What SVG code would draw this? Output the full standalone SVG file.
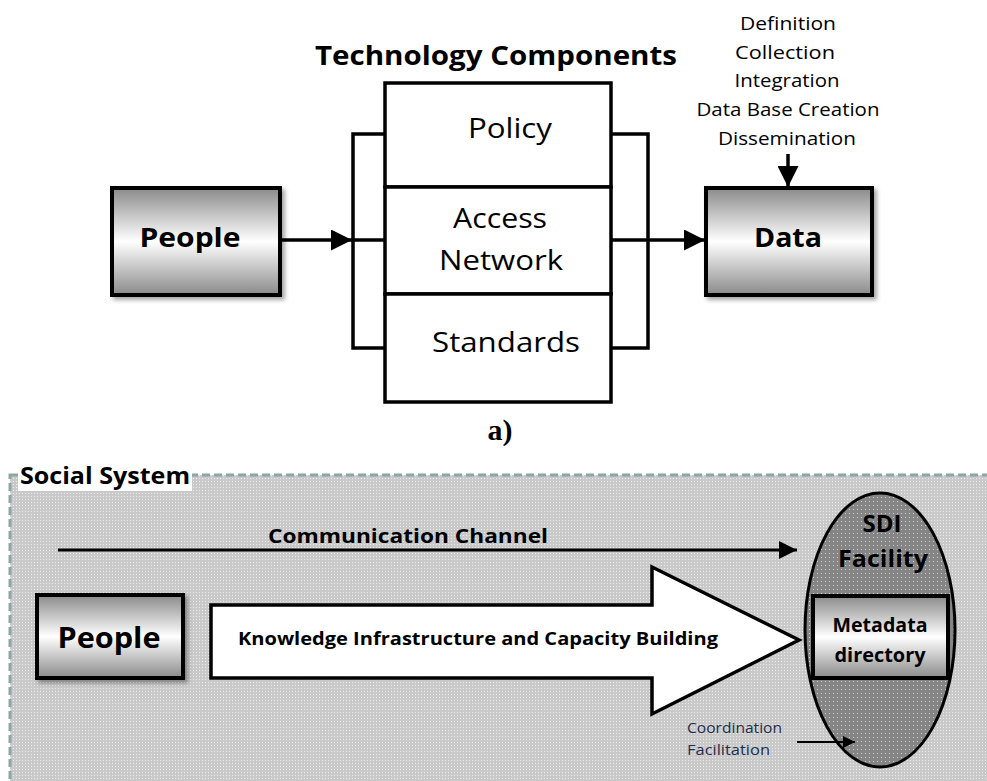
<svg xmlns="http://www.w3.org/2000/svg" width="987" height="781" viewBox="0 0 987 781">
<defs>
<linearGradient id="gBox" x1="0" y1="0" x2="0" y2="1">
<stop offset="0" stop-color="#8a8a8a"/>
<stop offset="0.5" stop-color="#ffffff"/>
<stop offset="1" stop-color="#8a8a8a"/>
</linearGradient>
<pattern id="pBg" width="3" height="3" patternUnits="userSpaceOnUse">
<rect width="3" height="3" fill="#c9c9c9"/>
<rect x="1" y="1" width="1" height="1" fill="#ececec"/>
</pattern>
<pattern id="pEl" width="4" height="4" patternUnits="userSpaceOnUse">
<rect width="4" height="4" fill="#858585"/>
<rect x="1" y="1" width="1" height="1" fill="#cfcfcf"/>
</pattern>
<filter id="sh" x="-10%" y="-10%" width="125%" height="130%">
<feDropShadow dx="3" dy="3" stdDeviation="2" flood-color="#000" flood-opacity="0.35"/>
</filter>
<marker id="ah" viewBox="0 0 10 10" refX="10" refY="5" markerWidth="6" markerHeight="6" orient="auto" markerUnits="strokeWidth">
<path d="M0,0 L10,5 L0,10 z" fill="#000"/>
</marker>
<marker id="ahs" viewBox="0 0 10 10" refX="10" refY="5" markerWidth="6" markerHeight="6" orient="auto" markerUnits="strokeWidth">
<path d="M0,0 L10,5 L0,10 z" fill="#000"/>
</marker>
</defs>
<style>
text{font-family:"Open Sans","Liberation Sans",sans-serif;fill:#000}
.b{font-weight:bold}
.box{fill:url(#gBox);stroke:#000;stroke-width:4}
.ln{stroke:#000;stroke-width:3.5;fill:none}
.cell{fill:#fff;stroke:#000;stroke-width:3.5}
</style>

<!-- Part a -->
<text x="496" y="65" class="b" font-size="27" text-anchor="middle" textLength="362" lengthAdjust="spacingAndGlyphs">Technology Components</text>

<g id="list" font-size="19" text-anchor="middle">
<text x="788" y="30" textLength="96" lengthAdjust="spacingAndGlyphs">Definition</text>
<text x="785" y="59" textLength="100" lengthAdjust="spacingAndGlyphs">Collection</text>
<text x="787" y="87" textLength="105" lengthAdjust="spacingAndGlyphs">Integration</text>
<text x="788" y="116" textLength="183" lengthAdjust="spacingAndGlyphs">Data Base Creation</text>
<text x="787" y="145" textLength="138" lengthAdjust="spacingAndGlyphs">Dissemination</text>
</g>

<g id="people-a">
<rect x="112" y="188" width="168" height="107" class="box" filter="url(#sh)"/>
<text x="190" y="247" class="b" font-size="27" text-anchor="middle" textLength="101" lengthAdjust="spacingAndGlyphs">People</text>
</g>

<g id="tech-stack">
<rect x="385" y="83" width="226" height="104" class="cell"/>
<rect x="385" y="187" width="226" height="107" class="cell"/>
<rect x="385" y="294" width="226" height="108" class="cell"/>
<text x="510" y="138" font-size="28" text-anchor="middle" textLength="84" lengthAdjust="spacingAndGlyphs">Policy</text>
<text x="500" y="228" font-size="28" text-anchor="middle" textLength="94" lengthAdjust="spacingAndGlyphs">Access</text>
<text x="501" y="270" font-size="28" text-anchor="middle" textLength="124" lengthAdjust="spacingAndGlyphs">Network</text>
<text x="506" y="352" font-size="28" text-anchor="middle" textLength="148" lengthAdjust="spacingAndGlyphs">Standards</text>
</g>

<g id="data">
<rect x="706" y="188" width="166" height="107" class="box" filter="url(#sh)"/>
<text x="788" y="247" class="b" font-size="27" text-anchor="middle" textLength="68" lengthAdjust="spacingAndGlyphs">Data</text>
</g>

<g id="connectors-a">
<path class="ln" d="M385,134 H353 V348 H385 M353,240 H385"/>
<path class="ln" d="M611,134 H648 V348 H611 M648,240 H611"/>
<line x1="280" y1="240" x2="352" y2="240" class="ln" marker-end="url(#ah)"/>
<line x1="648" y1="240" x2="705" y2="240" class="ln" marker-end="url(#ah)"/>
<line x1="788" y1="154" x2="788" y2="187" class="ln" marker-end="url(#ah)"/>
</g>

<text x="500" y="440" font-weight="bold" font-size="30" text-anchor="middle" style="font-family:'Liberation Serif',serif">a)</text>

<!-- Part b -->
<rect x="10" y="475" width="990" height="320" fill="url(#pBg)" stroke="#8ea5a5" stroke-width="3" stroke-dasharray="8,4"/>
<rect x="18" y="457" width="174" height="34" fill="#fff"/>
<text x="20" y="484" class="b" font-size="24" textLength="170" lengthAdjust="spacingAndGlyphs">Social System</text>

<g id="sdi">
<ellipse cx="880" cy="630" rx="75" ry="137" fill="url(#pEl)" stroke="#000" stroke-width="3"/>
<text x="882" y="532" class="b" font-size="24" text-anchor="middle">SDI</text>
<text x="883" y="567" class="b" font-size="24" text-anchor="middle" textLength="90" lengthAdjust="spacingAndGlyphs">Facility</text>
</g>

<g id="metadata">
<rect x="813" y="596" width="135" height="82" class="box" stroke-width="3.5"/>
<text x="880" y="632" class="b" font-size="19" text-anchor="middle" textLength="95" lengthAdjust="spacingAndGlyphs">Metadata</text>
<text x="880" y="662" class="b" font-size="19" text-anchor="middle" textLength="91" lengthAdjust="spacingAndGlyphs">directory</text>
</g>

<g id="people-b">
<rect x="37" y="595" width="146" height="83" class="box" filter="url(#sh)"/>
<text x="109" y="648" class="b" font-size="28" text-anchor="middle" textLength="103" lengthAdjust="spacingAndGlyphs">People</text>
</g>

<g id="kicb">
<path d="M211,605 H652 V567 L799,640 L652,714 V678 H211 Z" fill="#fff" stroke="#000" stroke-width="3.5"/>
<text x="238" y="645" class="b" font-size="17" textLength="480" lengthAdjust="spacingAndGlyphs">Knowledge  Infrastructure  and  Capacity  Building</text>
</g>

<g id="connectors-b">
<line x1="58" y1="550" x2="797" y2="550" stroke="#000" stroke-width="3" marker-end="url(#ahs)"/>
<line x1="797" y1="742" x2="855" y2="742" stroke="#000" stroke-width="2" marker-end="url(#ahs)"/>
</g>

<text x="408" y="543" class="b" font-size="20" text-anchor="middle" textLength="280" lengthAdjust="spacingAndGlyphs">Communication Channel</text>

<g font-size="15">
<text x="687" y="733" style="fill:#1f2d4f" textLength="95" lengthAdjust="spacingAndGlyphs">Coordination</text>
<text x="687" y="755" style="fill:#1f2d4f" textLength="83" lengthAdjust="spacingAndGlyphs">Facilitation</text>
</g>
</svg>
